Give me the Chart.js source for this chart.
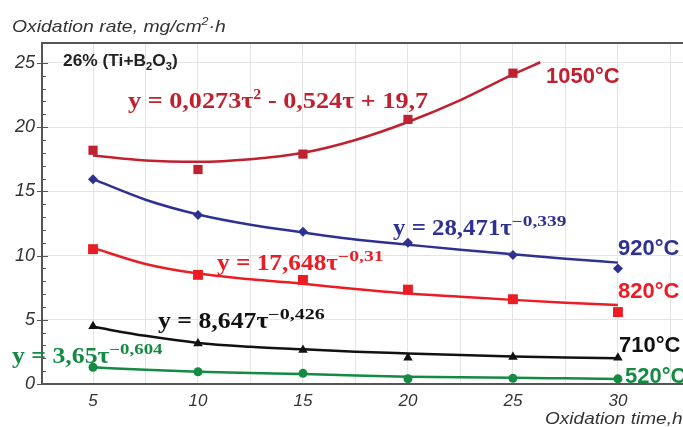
<!DOCTYPE html>
<html>
<head>
<meta charset="utf-8">
<script src="https://cdn.jsdelivr.net/npm/chart.js@4"></script>
<style>
  body { margin: 0; background: #fff; }
  #wrap { width: 683px; height: 427px; }
</style>
</head>
<body>
<div id="wrap"><canvas id="chartOxidation" width="683" height="427"></canvas></div>
<script>
// measured points (Oxidation time, h)
var obsX = [5, 10, 15, 20, 25, 30];
var obs1050 = [18.2, 16.7, 17.9, 20.6, 24.2, null];
var obs920 = [15.95, 13.15, 11.85, 11.0, 10.05, 9.0];
var obs820 = [10.5, 8.5, 8.1, 7.35, 6.6, 5.6];
var obs710 = [4.5, 3.15, 2.65, 2.05, 2.1, 2.05];
var obs520 = [1.3, 0.95, 0.83, 0.4, 0.44, 0.4];

// trend curves
var fitX = [5, 7.5, 10, 12.5, 15, 17.5, 20, 22.5, 25, 27.5, 30];
var fitX1050 = [5, 7.5, 10, 12.5, 15, 17.5, 20, 22.5, 25, 26.3];
var fit1050 = [17.8, 17.4, 17.3, 17.5, 18.0, 19.0, 20.4, 22.1, 24.1, 25.05];
var fit920 = [15.95, 14.35, 13.2, 12.4, 11.8, 11.25, 10.85, 10.45, 10.1, 9.75, 9.45];
var fit820 = [10.6, 9.35, 8.6, 8.15, 7.8, 7.4, 7.05, 6.8, 6.55, 6.33, 6.15];
var fit710 = [4.45, 3.75, 3.2, 2.9, 2.7, 2.52, 2.38, 2.25, 2.14, 2.06, 2.0];
var fit520 = [1.3, 1.1, 0.96, 0.86, 0.78, 0.66, 0.57, 0.52, 0.49, 0.44, 0.39];

// axis ticks
var xTicks = [5, 7.5, 10, 12.5, 15, 17.5, 20, 22.5, 25, 27.5, 30, 32.5];
var yTicks = [0, 1, 2, 3, 4, 5, 6, 7, 8, 9, 10, 11, 12, 13, 14, 15, 16, 17, 18, 19, 20, 21, 22, 23, 24, 25];

var colors = {
    c1050: "#bf2130",
    c920: "#2e3192",
    c820: "#ec1c24",
    c710: "#111111",
    c520: "#148a42"
};

var _pairs = function(xs, ys) {
    var out = [];
    for (var i = 0; i < xs.length; i++) {
        if (ys[i] !== null) out.push({ x: xs[i], y: ys[i] });
    }
    return out;
};

var _fitSet = function(xs, ys, color) {
    return {
        type: "line",
        data: _pairs(xs, ys),
        borderColor: color,
        borderWidth: 2.5,
        pointRadius: 0,
        tension: 0.4,
        cubicInterpolationMode: "monotone",
        fill: false,
        order: 2
    };
};

var _obsSet = function(ys, color, style, radius) {
    return {
        type: "scatter",
        data: _pairs(obsX, ys),
        backgroundColor: color,
        borderColor: color,
        borderWidth: 0,
        pointStyle: style,
        pointRadius: radius,
        showLine: false,
        order: 1
    };
};

// rich text: [text, "n" | "sup" | "sub"]
var _drawRich = function(ctx, x, y, parts, size, color, family, weight, stretch, supStretch) {
    ctx.save();
    ctx.translate(x, y);
    ctx.scale(stretch || 1, 1);
    ctx.fillStyle = color;
    ctx.textBaseline = "alphabetic";
    ctx.textAlign = "left";
    var cx = 0;
    parts.forEach(function(p) {
        var s = size, dy = 0, k = 1;
        if (p[1] === "sup") { s = Math.round(size * 0.62); dy = -size * 0.4; k = supStretch || 1; }
        if (p[1] === "sub") { s = Math.round(size * 0.65); dy = size * 0.22; }
        ctx.font = weight + " " + s + "px " + family;
        ctx.save();
        ctx.translate(cx, dy);
        ctx.scale(k, 1);
        ctx.fillText(p[0], 0, 0);
        ctx.restore();
        cx += ctx.measureText(p[0]).width * k;
    });
    ctx.restore();
};

var serif = "'Liberation Serif', 'Times New Roman', serif";
var sans = "'Liberation Sans', Arial, sans-serif";

var framePlugin = {
    id: "frame",
    afterDraw: function(chart) {
        var ctx = chart.ctx;
        var a = chart.chartArea;
        var ys = chart.scales.y;
        ctx.save();
        ctx.strokeStyle = "#555";
        ctx.lineWidth = 2;
        ctx.beginPath();
        ctx.moveTo(a.left - 1, a.top);
        ctx.lineTo(a.right, a.top);
        ctx.stroke();
        // y tick marks
        ctx.lineWidth = 1;
        yTicks.forEach(function(v) {
            var py = Math.round(ys.getPixelForValue(v)) + 0.5;
            ctx.beginPath();
            if (v % 5 === 0) {
                ctx.moveTo(a.left - 5, py);
                ctx.lineTo(a.left + 6, py);
            } else {
                ctx.moveTo(a.left, py);
                ctx.lineTo(a.left + 4, py);
            }
            ctx.stroke();
        });
        ctx.restore();
    }
};

var textPlugin = {
    id: "texts",
    afterDraw: function(chart) {
        var ctx = chart.ctx;
        // titles
        _drawRich(ctx, 12, 32, [["Oxidation rate, mg/cm", "n"], ["2", "sup"], ["\u00b7h", "n"]], 17, "#333", sans, "italic", 1.14, 1);
        _drawRich(ctx, 63, 66, [["26% (Ti+B", "n"], ["2", "sub"], ["O", "n"], ["3", "sub"], [")", "n"]], 17, "#222", sans, "bold", 1.02, 1);
        _drawRich(ctx, 545, 424, [["Oxidation time,h", "n"]], 17, "#333", sans, "italic", 1.12, 1);

        // equations
        _drawRich(ctx, 128, 108, [["y = 0,0273\u03c4", "n"], ["2", "sup"], [" - 0,524\u03c4 + 19,7", "n"]], 23, colors.c1050, serif, "bold", 1.14, 1);
        _drawRich(ctx, 393, 235, [["y = 28,471\u03c4", "n"], ["\u22120,339", "sup"]], 23, colors.c920, serif, "bold", 1.08, 1.28);
        _drawRich(ctx, 217, 270, [["y = 17,648\u03c4", "n"], ["\u22120,31", "sup"]], 23, colors.c820, serif, "bold", 1.1, 1.28);
        _drawRich(ctx, 158, 328, [["y = 8,647\u03c4", "n"], ["\u22120,426", "sup"]], 23, colors.c710, serif, "bold", 1.12, 1.28);
        _drawRich(ctx, 12, 363, [["y = 3,65\u03c4", "n"], ["\u22120,604", "sup"]], 23, colors.c520, serif, "bold", 1.12, 1.2);

        // series labels
        _drawRich(ctx, 546, 83, [["1050\u00b0C", "n"]], 22, colors.c1050, sans, "bold", 1, 1);
        _drawRich(ctx, 618, 255, [["920\u00b0C", "n"]], 22, colors.c920, sans, "bold", 1, 1);
        _drawRich(ctx, 618, 298, [["820\u00b0C", "n"]], 22, colors.c820, sans, "bold", 1, 1);
        _drawRich(ctx, 619, 352, [["710\u00b0C", "n"]], 22, colors.c710, sans, "bold", 1, 1);
        _drawRich(ctx, 625, 383, [["520\u00b0C", "n"]], 22, colors.c520, sans, "bold", 1, 1);
    }
};

var myChartOxidation = new Chart(document.getElementById("chartOxidation").getContext("2d"), {
    data: {
        datasets: [
            _fitSet(fitX1050, fit1050, colors.c1050),
            _fitSet(fitX, fit920, colors.c920),
            _fitSet(fitX, fit820, colors.c820),
            _fitSet(fitX, fit710, colors.c710),
            _fitSet(fitX, fit520, colors.c520),
            _obsSet(obs1050, colors.c1050, "rect", 6.5),
            _obsSet(obs920, colors.c920, "rectRot", 5),
            _obsSet(obs820, colors.c820, "rect", 7),
            _obsSet(obs710, colors.c710, "triangle", 5.5),
            _obsSet(obs520, colors.c520, "circle", 4.5)
        ]
    },
    options: {
        responsive: false,
        animation: false,
        layout: { autoPadding: false, padding: { top: 43, right: 0, left: 0, bottom: 0 } },
        plugins: { legend: { display: false }, tooltip: { enabled: false } },
        scales: {
            x: {
                type: "linear",
                min: 2.57,
                max: 33.1,
                afterBuildTicks: function(scale) {
                    scale.ticks = xTicks.map(function(v) { return { value: v }; });
                },
                afterFit: function(scale) {
                    scale.height = 43;
                    scale.paddingLeft = 0;
                    scale.paddingRight = 0;
                },
                grid: { color: "#e4e4e4", lineWidth: 1, drawTicks: false },
                border: { color: "#555", width: 2 },
                ticks: {
                    padding: 7,
                    color: "#333",
                    font: { family: sans, size: 17, style: "italic" },
                    maxRotation: 0,
                    autoSkip: false,
                    callback: function(v) { return v % 5 === 0 ? v : ""; }
                }
            },
            y: {
                type: "linear",
                min: 0,
                max: 26.55,
                afterBuildTicks: function(scale) {
                    scale.ticks = yTicks.map(function(v) { return { value: v }; });
                },
                afterFit: function(scale) {
                    scale.width = 42;
                    scale.paddingTop = 0;
                    scale.paddingBottom = 0;
                },
                grid: {
                    drawTicks: false,
                    lineWidth: 1,
                    color: function(c) { return c.tick && c.tick.value % 5 === 0 ? "#e4e4e4" : "rgba(0,0,0,0)"; }
                },
                border: { color: "#555", width: 2 },
                ticks: {
                    padding: 7,
                    color: "#333",
                    font: { family: sans, size: 18, style: "italic" },
                    autoSkip: false,
                    callback: function(v) { return v % 5 === 0 ? v : ""; }
                }
            }
        }
    },
    plugins: [framePlugin, textPlugin]
});
</script>
</body>
</html>
